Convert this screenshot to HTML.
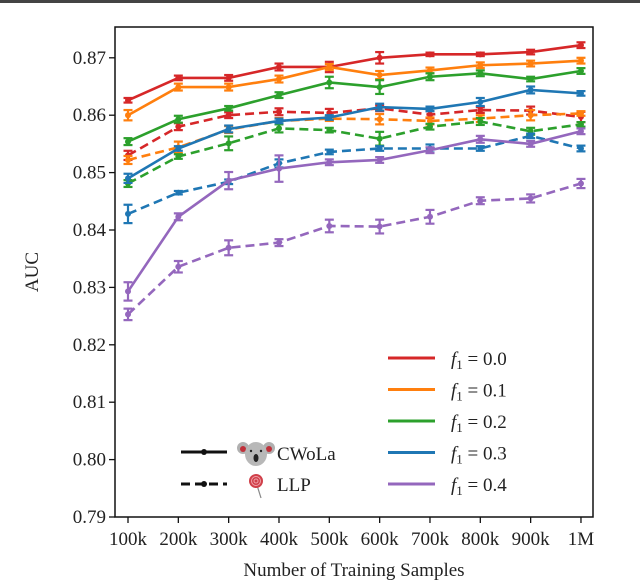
<!DOCTYPE html>
<html><head><meta charset="utf-8"><style>
body{margin:0;background:#fff;}
svg text{font-family:"Liberation Serif",serif;fill:#222;}
</style></head><body>
<svg id="chart" width="640" height="583" xmlns="http://www.w3.org/2000/svg">
<rect x="0" y="0" width="640" height="3" fill="#444"/>
<g id="marks"></g>
<rect x="115" y="27" width="478" height="490" fill="none" stroke="#111" stroke-width="1.5"/>
<g id="axes"></g>
<text x="38" y="272" font-size="19" text-anchor="middle" transform="rotate(-90 38 272)">AUC</text>
<text x="354" y="576" font-size="19" text-anchor="middle">Number of Training Samples</text>
<g id="legend">
<line x1="181" y1="452" x2="227" y2="452" stroke="#111" stroke-width="3"/>
<circle cx="204" cy="452" r="3" fill="#111"/>
<line x1="181" y1="484" x2="227" y2="484" stroke="#111" stroke-width="3" stroke-dasharray="9,5"/>
<circle cx="204" cy="484" r="3" fill="#111"/>
<g>
<circle cx="243" cy="448" r="6" fill="#b0b0b0"/><circle cx="269" cy="448" r="6" fill="#b0b0b0"/>
<circle cx="243" cy="449" r="3" fill="#c0303a"/><circle cx="269" cy="449" r="3" fill="#c0303a"/>
<ellipse cx="256" cy="454" rx="11" ry="12" fill="#b8b8b8"/>
<ellipse cx="256" cy="458" rx="2.5" ry="4" fill="#222"/>
<circle cx="251" cy="451" r="1.2" fill="#222"/><circle cx="261" cy="451" r="1.2" fill="#222"/>
</g>
<g>
<line x1="256" y1="482" x2="261" y2="498" stroke="#888" stroke-width="1.2"/>
<circle cx="256" cy="481" r="7" fill="#d0404a"/>
<circle cx="256" cy="481" r="4.5" fill="none" stroke="#f0a0a8" stroke-width="1"/>
<circle cx="256" cy="481" r="2" fill="none" stroke="#f0a0a8" stroke-width="1"/>
</g>
<text x="277" y="460" font-size="19">CWoLa</text>
<text x="277" y="491" font-size="19">LLP</text>
<g id="flegend"></g>
</g>
</svg>
<script>
const categories=["100k","200k","300k","400k","500k","600k","700k","800k","900k","1M"];
const yTicks=[0.79,0.80,0.81,0.82,0.83,0.84,0.85,0.86,0.87];
const seriesNames=["f1 = 0.0","f1 = 0.1","f1 = 0.2","f1 = 0.3","f1 = 0.4"];
const colors=["#d62728","#ff7f0e","#2ca02c","#1f77b4","#9467bd"];
const cwola0=[.8626,.8665,.8665,.8684,.8684,.8700,.8706,.8706,.8710,.8722];
const cwola1=[.8600,.8649,.8649,.8663,.8684,.8670,.8678,.8687,.8690,.8695];
const cwola2=[.8554,.8593,.8612,.8635,.8657,.8649,.8667,.8673,.8663,.8677];
const cwola3=[.8490,.8542,.8576,.8590,.8596,.8614,.8611,.8623,.8644,.8638];
const cwola4=[.8293,.8423,.8486,.8507,.8518,.8522,.8539,.8558,.8550,.8572];
const llp0=[.8530,.8580,.8600,.8606,.8604,.8612,.8601,.8609,.8608,.8597];
const llp1=[.8522,.8544,.8575,.8590,.8594,.8593,.8590,.8594,.8600,.8603];
const llp2=[.8481,.8528,.8551,.8577,.8574,.8559,.8580,.8589,.8572,.8584];
const llp3=[.8428,.8465,.8484,.8516,.8536,.8542,.8542,.8542,.8564,.8542];
const llp4=[.8253,.8336,.8369,.8378,.8407,.8406,.8423,.8451,.8455,.8481];
const cwolaErr=[[.0004,.0004,.0005,.0006,.0009,.0010,.0003,.0003,.0004,.0005],
[.0009,.0006,.0006,.0006,.0005,.0007,.0005,.0005,.0005,.0005],
[.0006,.0006,.0004,.0005,.0010,.0012,.0006,.0005,.0004,.0005],
[.0008,.0004,.0006,.0004,.0004,.0006,.0004,.0007,.0006,.0004],
[.0016,.0006,.0015,.0023,.0005,.0005,.0005,.0006,.0005,.0005]];
const llpErr=[[.0008,.0006,.0005,.0006,.0007,.0005,.0006,.0005,.0007,.0009],
[.0007,.0010,.0006,.0005,.0004,.0009,.0006,.0006,.0009,.0004],
[.0006,.0004,.0012,.0007,.0004,.0012,.0005,.0006,.0006,.0004],
[.0016,.0003,.0004,.0007,.0004,.0004,.0007,.0004,.0004,.0005],
[.0010,.0010,.0013,.0006,.0011,.0012,.0012,.0006,.0007,.0008]];
const cwola=[cwola0,cwola1,cwola2,cwola3,cwola4];
const llp=[llp0,llp1,llp2,llp3,llp4];
const NS="http://www.w3.org/2000/svg";
const X0=128,XSTEP=50.33,Y0=517,YMIN=0.79,YPX=5740;
function xs(i){return X0+i*XSTEP;}
function ys(v){return Y0-(v-YMIN)*YPX;}
function mk(tag,attrs,parent){const e=document.createElementNS(NS,tag);for(const k in attrs)e.setAttribute(k,attrs[k]);parent.appendChild(e);return e;}
const axes=document.getElementById('axes'),marks=document.getElementById('marks');
categories.forEach((c,i)=>{
  const t=mk('line',{x1:xs(i),x2:xs(i),y1:517,y2:523,stroke:'#111','stroke-width':1.3},axes);
  
  
  const l=mk('text',{x:xs(i),y:545,'font-size':19,'text-anchor':'middle'},axes);
  l.textContent=c;
  
  
});
yTicks.forEach(v=>{
  const t=mk('line',{x1:109,x2:115,y1:ys(v),y2:ys(v),stroke:'#111','stroke-width':1.3},axes);
  
  
  const l=mk('text',{x:106,y:ys(v)+6,'font-size':19,'text-anchor':'end'},axes);
  l.textContent=v.toFixed(2);
  
  
});
function drawSeries(vals,errs,color,dashed,name){
  const g=mk('g',{},marks);
  
  
  const pts=vals.map((v,i)=>xs(i)+','+ys(v)).join(' ');
  const attrs={points:pts,fill:'none',stroke:color,'stroke-width':2.6};
  if(dashed)attrs['stroke-dasharray']='9,5';
  mk('polyline',attrs,g);
  vals.forEach((v,i)=>{
    const e=errs[i],x=xs(i);
    mk('line',{x1:x,x2:x,y1:ys(v+e),y2:ys(v-e),stroke:color,'stroke-width':2.2},g);
    mk('line',{x1:x-4.5,x2:x+4.5,y1:ys(v+e),y2:ys(v+e),stroke:color,'stroke-width':2.2},g);
    mk('line',{x1:x-4.5,x2:x+4.5,y1:ys(v-e),y2:ys(v-e),stroke:color,'stroke-width':2.2},g);
    mk('circle',{cx:x,cy:ys(v),r:3,fill:color},g);
  });
}
for(let s=0;s<5;s++){drawSeries(llp[s],llpErr[s],colors[s],true,'llp-series-'+s);}
for(let s=0;s<5;s++){drawSeries(cwola[s],cwolaErr[s],colors[s],false,'cwola-series-'+s);}
const fl=document.getElementById('flegend');
seriesNames.forEach((n,i)=>{
  const y=358+i*31.5;
  const ln=mk('line',{x1:388,x2:435,y1:y,y2:y,stroke:colors[i],'stroke-width':3},fl);
  
  
  const t=mk('text',{x:451,y:y+7,'font-size':19},fl);
  t.innerHTML='<tspan font-style="italic">f</tspan><tspan font-size="13" dy="4">1</tspan><tspan dy="-4"> = '+n.split('= ')[1]+'</tspan>';
  
  
});
</script>
</body></html>
